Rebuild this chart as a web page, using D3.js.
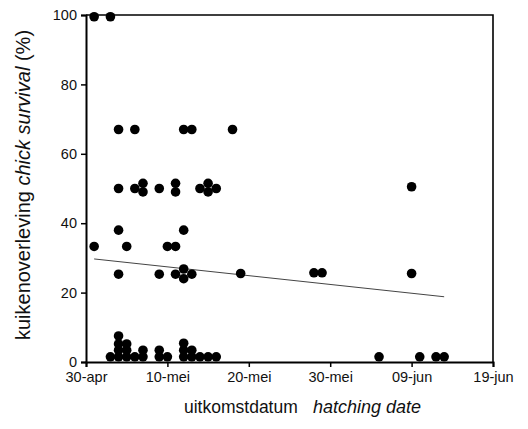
<!DOCTYPE html>
<html>
<head>
<meta charset="utf-8">
<script src="https://cdn.jsdelivr.net/npm/d3@7"></script>
<style>
  body { margin: 0; background: #fff; }
  svg { font-family: "Liberation Sans", Arial, sans-serif; }
</style>
</head>
<body>
<svg></svg>
<script>
// afmetingen
const width = 528;
const height = 429;
const margin = {left: 86, right: 35, top: 15, bottom: 67};

// dagen na 30 april, overleving in %
const days = [1, 3,
    4, 6, 12, 13, 18,
    4, 6, 7, 7, 9, 11, 11, 14, 15, 15, 16, 40,
    4, 12,
    1, 5, 10, 11,
    4, 9, 11, 12, 12, 13, 19, 28, 29, 40,
    3, 4, 4, 4, 4, 5, 5, 5, 6, 7, 7, 9, 9, 10, 12, 12, 12, 13, 13, 14, 15, 16,
    36, 41, 43, 44];
const survival = [99.5, 99.5,
    67, 67, 67, 67, 67,
    50, 50, 51.5, 49, 50, 51.5, 49, 50, 51.5, 49, 50, 50.5,
    38, 38,
    33.3, 33.3, 33.3, 33.3,
    25.3, 25.3, 25.3, 26.8, 24, 25.3, 25.5, 25.7, 25.7, 25.5,
    1.5, 7.5, 5.2, 3.4, 1.5, 5.2, 3.4, 1.5, 1.5, 3.4, 1.5, 3.4, 1.5, 1.5, 5.4, 3.4, 1.5, 3.4, 1.5, 1.5, 1.5, 1.5,
    1.5, 1.5, 1.5, 1.5];

// regressielijn
const trendDays = [1, 44];
const trendValues = [29.7, 18.8];

const xTicks = [0, 10, 20, 30, 40, 50];
const xTickLabels = ["30-apr", "10-mei", "20-mei", "30-mei", "09-jun", "19-jun"];
const yTicks = [0, 20, 40, 60, 80, 100];

let svg = d3.select("svg")
    .attr("width", width)
    .attr("height", height);

svg.append("rect")
    .attr("width", width)
    .attr("height", height)
    .attr("fill", "#fff");

const x = d3.scaleLinear()
    .domain([0, 50])
    .range([margin.left, width - margin.right]);

const y = d3.scaleLinear()
    .domain([0, 100])
    .range([height - margin.bottom, margin.top]);

// kader
svg.append("path")
    .attr("d", `M${x(0)},${y(100)}H${x(50)}V${y(0)}`)
    .attr("fill", "none")
    .attr("stroke", "#000")
    .attr("stroke-width", 1.6);

// assen
let xAxis = svg.append("g")
    .attr("transform", `translate(0,${y(0)})`)
    .call(d3.axisBottom(x)
        .tickValues(xTicks)
        .tickFormat((d, i) => xTickLabels[i])
        .tickSizeOuter(0)
        .tickSize(5)
        .tickPadding(5));

let yAxis = svg.append("g")
    .attr("transform", `translate(${x(0)},0)`)
    .call(d3.axisLeft(y)
        .tickValues(yTicks)
        .tickSizeOuter(0)
        .tickSize(5)
        .tickPadding(4));

[xAxis, yAxis].forEach(ax => {
    ax.select(".domain").attr("stroke-width", 2);
    ax.selectAll(".tick line").attr("stroke-width", 1.5);
    ax.selectAll("text")
        .attr("font-size", 14.5)
        .attr("font-family", "Liberation Sans, Arial, sans-serif")
        .attr("fill", "#111");
});

// trendlijn
const line = d3.line()
    .x((d, i) => x(trendDays[i]))
    .y(d => y(d));

svg.append("path")
    .attr("d", line(trendValues))
    .attr("fill", "none")
    .attr("stroke", "#444")
    .attr("stroke-width", 1);

// punten
svg.append("g")
    .selectAll("circle")
    .data(days)
    .join("circle")
    .attr("cx", d => x(d))
    .attr("cy", (d, i) => y(survival[i]))
    .attr("r", 4.8)
    .attr("fill", "#000");

// astitels
let yTitle = svg.append("text")
    .attr("transform", "translate(30,185) rotate(-90)")
    .attr("text-anchor", "middle")
    .attr("font-size", 20)
    .attr("fill", "#111");
yTitle.append("tspan").text("kuikenoverleving ");
yTitle.append("tspan").attr("font-style", "italic").text("chick survival");
yTitle.append("tspan").text(" (%)");

svg.append("text")
    .attr("x", 184)
    .attr("y", 413)
    .attr("font-size", 17.5)
    .attr("fill", "#111")
    .text("uitkomstdatum");

svg.append("text")
    .attr("x", 313)
    .attr("y", 413)
    .attr("font-size", 18)
    .attr("font-style", "italic")
    .attr("fill", "#111")
    .text("hatching date");
</script>
</body>
</html>
